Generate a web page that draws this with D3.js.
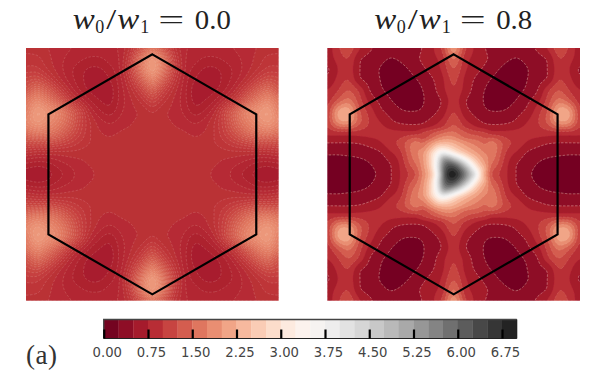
<!DOCTYPE html>
<html><head><meta charset="utf-8">
<style>
html,body{margin:0;padding:0;background:#fff}
svg{display:block}
</style>
<script src="https://cdn.jsdelivr.net/npm/d3@7"></script>
</head><body><div id="chart"></div>
<script>
// Quadrant samples (w0/w1 = 0.0), top-left quarter, mirrored on both axes
const leftQuadrant = [
[.92,.90,.88,.84,.82,.80,.80,.80,.80,.83,.98,1.30,1.60],
[.96,.96,.90,.84,.80,.77,.74,.74,.78,.83,1.08,1.60,1.95],
[1.02,1.02,.94,.85,.78,.72,.68,.68,.73,.83,1.12,1.62,2.00],
[1.15,1.20,1.08,.92,.80,.72,.66,.65,.69,.80,1.02,1.38,1.72],
[1.30,1.50,1.35,1.12,.90,.76,.68,.65,.66,.78,.92,1.12,1.36],
[1.60,1.80,1.65,1.40,1.10,.90,.76,.69,.67,.78,.87,.97,1.10],
[1.70,2.00,1.90,1.75,1.45,1.15,.88,.76,.72,.80,.86,.89,.95],
[1.80,1.95,1.85,1.70,1.45,1.15,.95,.84,.80,.84,.87,.89,.90],
[1.55,1.65,1.60,1.50,1.30,1.10,.95,.88,.86,.88,.89,.90,.90],
[1.20,1.20,1.20,1.15,1.08,1.00,.94,.90,.89,.90,.90,.90,.90],
[.93,.90,.90,.90,.91,.91,.90,.90,.90,.90,.90,.90,.90],
[.74,.72,.73,.78,.82,.85,.88,.89,.90,.90,.90,.90,.90],
[.66,.63,.66,.72,.78,.83,.86,.89,.90,.90,.90,.90,.90]];
// Same for the right panel (w0/w1 = 0.8)
const rightQuadrant = [
[.60,.95,1.15,.80,.55,.42,.36,.36,.38,.50,.72,1.10,1.95],
[.60,.85,1.00,.55,.42,.33,.24,.30,.42,.53,.68,.90,1.55],
[.45,.75,.90,.52,.38,.24,.13,.16,.30,.45,.60,.82,1.25],
[.55,.82,1.00,.55,.42,.25,.13,.08,.18,.32,.48,.72,1.08],
[.75,.98,1.25,.95,.50,.30,.17,.08,.10,.24,.42,.68,.98],
[.88,1.30,1.60,1.12,.68,.45,.27,.13,.08,.22,.38,.54,.90],
[1.00,2.00,2.15,1.30,.90,.56,.42,.28,.25,.28,.42,.62,1.00],
[1.05,1.85,1.95,1.35,.98,.75,.55,.44,.42,.45,.62,.85,1.20],
[.85,.92,.92,.90,.88,.85,.82,.80,.80,.85,1.02,1.20,1.50],
[.50,.50,.50,.52,.60,.72,.92,1.10,1.50,1.70,1.90,2.10,2.30],
[.28,.28,.30,.32,.37,.46,.70,.95,1.52,1.90,2.40,3.00,3.50],
[.12,.10,.12,.17,.24,.36,.50,.82,1.35,1.80,3.00,5.00,6.00],
[.05,.03,.05,.10,.18,.30,.48,.78,1.10,1.70,3.70,6.80,6.90]];
// Finer samples around the asymmetric central peak of the right panel (upper half)
const rightCore = [
[1.00,1.10,1.20,1.32,1.42,1.52,1.52,1.42,1.30,1.18,1.08,1.05,1.00],
[1.10,1.22,1.45,1.65,1.80,1.85,1.78,1.62,1.45,1.38,1.38,1.30,1.20],
[1.45,1.70,1.95,2.20,2.30,2.30,2.20,2.05,1.90,1.75,1.65,1.55,1.42],
[1.70,2.00,2.40,2.90,3.00,2.85,2.60,2.35,2.15,2.00,1.85,1.72,1.60],
[1.90,2.30,2.90,3.50,3.95,3.70,3.30,2.90,2.60,2.30,2.10,1.90,1.72],
[1.90,2.30,3.00,3.90,5.20,5.20,4.70,4.10,3.50,2.95,2.50,2.15,1.85],
[1.85,2.30,3.00,4.10,5.60,6.10,5.90,5.40,4.60,3.75,3.00,2.40,2.00],
[1.80,2.20,2.90,4.10,5.80,6.50,6.60,6.10,5.50,4.60,3.60,2.80,2.20],
[1.70,2.10,2.70,3.90,5.70,6.80,6.95,6.50,5.80,5.00,4.20,2.95,2.00]];
const hexVertices = [[0,1],[.866,.5],[.866,-.5],[0,-1],[-.866,-.5],[-.866,.5]];
const tickValues = [0,.75,1.5,2.25,3,3.75,4.5,5.25,6,6.75];
const tickLabels = ["0.00","0.75","1.50","2.25","3.00","3.75","4.50","5.25","6.00","6.75"];
const panelRatios = ["0.0","0.8"];
const colorDomain = [0,7];
const bandStep = .25;
const fineStep = .0625;

const W=593,H=379;
const svg=d3.select("#chart").append("svg").attr("width",W).attr("height",H);
const color=d3.scaleSequential(d3.interpolateRdGy).domain(colorDomain);

function cr(a,b,c,d,t){return b+.5*t*(c-a+t*(2*a-5*b+4*c-d+t*(3*(b-c)+d-a)));}
function upsample(src,n,f){
  const N=(n-1)*f+1,out=new Float64Array(N*N),cl=i=>Math.max(0,Math.min(n-1,i));
  const tmp=new Float64Array(N*n);
  for(let r=0;r<n;r++)for(let c=0;c<N;c++){
    const x=c/f,i=Math.min(Math.floor(x),n-2),t=x-i;
    tmp[r*N+c]=cr(src[r*n+cl(i-1)],src[r*n+i],src[r*n+i+1],src[r*n+cl(i+2)],t);
  }
  for(let r=0;r<N;r++)for(let c=0;c<N;c++){
    const y=r/f,j=Math.min(Math.floor(y),n-2),t=y-j;
    out[r*N+c]=Math.max(.005,cr(tmp[cl(j-1)*N+c],tmp[j*N+c],tmp[(j+1)*N+c],tmp[cl(j+2)*N+c],t));
  }
  return {data:out,N};
}
function buildField(quad,core){
  const main=new Float64Array(625);
  for(let j=0;j<25;j++)for(let i=0;i<25;i++)main[j*25+i]=quad[Math.min(j,24-j)][Math.min(i,24-i)];
  const half=upsample(main,25,2),n=half.N;
  if(core) core.forEach((row,m)=>row.forEach((v,k)=>{
    const r=16+m,c=18+k;
    half.data[r*n+c]=v; half.data[(48-r)*n+c]=v;
  }));
  const fine=upsample(half.data,n,4);
  d3.blur2({data:fine.data,width:fine.N,height:fine.N},1);
  return fine;
}

const defs=svg.append("defs");
defs.append("filter").attr("id","soft").attr("x","-5%").attr("y","-5%").attr("width","110%").attr("height","110%")
  .append("feGaussianBlur").attr("stdDeviation",.35);

const panels=[
 {q:leftQuadrant,core:null,x0:26,step:fineStep,lines:d3.range(.5,2.2,fineStep),strong:1e9,lineOp:.3,ratio:panelRatios[0]},
 {q:rightQuadrant,core:rightCore,x0:327.3,step:bandStep,lines:[.25,.5,1,1.25,1.5,1.75,2,2.25,2.5],strong:.5,lineOp:.65,ratio:panelRatios[1]}
];
const size=252.7,y0=48,cy=y0+size/2;

panels.forEach((p,idx)=>{
  const g=svg.append("g");
  const cid="clip"+idx;
  defs.append("clipPath").attr("id",cid).append("rect").attr("x",p.x0).attr("y",y0).attr("width",size).attr("height",size);
  const {data,N}=buildField(p.q,p.core);
  const sx=d3.scaleLinear().domain([.5,N-.5]).range([p.x0,p.x0+size]);
  const sy=d3.scaleLinear().domain([.5,N-.5]).range([y0,y0+size]);
  const path=d3.geoPath(d3.geoTransform({point(x,y){this.stream.point(sx(x),sy(y));}}));
  const th=d3.range(0,7,p.step);
  const contours=d3.contours().size([N,N]).thresholds(th)(data);
  const body=g.append("g").attr("clip-path",`url(#${cid})`).append("g").attr("filter","url(#soft)");
  body.selectAll("path.band").data(contours.filter(c=>c.coordinates.length)).join("path").attr("class","band")
    .attr("d",path).attr("fill",d=>color(d.value+p.step/2)).attr("stroke",d=>color(d.value+p.step/2)).attr("stroke-width",.3);
  const lineContours=d3.contours().size([N,N]).thresholds(p.lines)(data);
  body.selectAll("path.line").data(lineContours).join("path").attr("class","line")
    .attr("d",path).attr("fill","none").attr("stroke","#f6d9cc")
    .attr("stroke-opacity",d=>(p.strong<1e8&&d.value>p.strong)?.22:p.lineOp)
    .attr("stroke-width",.6).attr("stroke-dasharray","2.5 1.5");

  // hexagon
  const cx=p.x0+size/2;
  const hx=d3.scaleLinear().domain([-1,1]).range([cx-120,cx+120]);
  const hy=d3.scaleLinear().domain([-1,1]).range([cy+120,cy-120]);
  g.append("path").attr("d",d3.line().x(d=>hx(d[0])).y(d=>hy(d[1])).curve(d3.curveLinearClosed)(hexVertices))
    .attr("fill","none").attr("stroke","#000").attr("stroke-width",2.2).attr("stroke-linejoin","miter");

  // title pieces, laid out to follow the wide math setting of the reference
  const tg=svg.append("g").attr("transform",`translate(${cx},29)`).attr("font-family","'Liberation Serif',serif").attr("fill","#222");
  const piece=(txt,dx,fs,opt={})=>{
    const t=tg.append("text").attr("x",dx).attr("y",opt.dy||0).attr("font-size",fs).text(txt);
    if(opt.it) t.attr("font-style","italic");
    if(opt.len) t.attr("textLength",opt.len).attr("lengthAdjust","spacingAndGlyphs");
  };
  piece("w",-79.5,30,{it:1,len:22});
  piece("0",-57,18,{dy:4});
  piece("/",-46,30,{len:10});
  piece("w",-35,30,{it:1,len:22});
  piece("1",-12,18,{dy:4});
  piece("=",6,28,{len:26});
  piece(p.ratio,42.5,27,{len:36});
});

// colour bar
const cb=d3.scaleLinear().domain(colorDomain).range([103.75,516.75]);
const cbY=319.5,cbH=19;
const bar=svg.append("g");
bar.selectAll("rect").data(d3.range(0,7,bandStep)).join("rect")
  .attr("x",d=>cb(d)).attr("y",cbY).attr("width",d=>cb(d+bandStep)-cb(d)+.3).attr("height",cbH)
  .attr("fill",d=>color(d+bandStep/2));
bar.append("path").attr("d",`M${cb(0)},${cbY+cbH}V${cbY}H${cb(7)}`).attr("fill","none").attr("stroke","#444").attr("stroke-width",1.4);
bar.append("path").attr("d",`M${cb(0)},${cbY+cbH}H${cb(7)}V${cbY}`).attr("fill","none").attr("stroke","#222").attr("stroke-width",1);
const axis=d3.axisBottom(cb).tickValues(tickValues).tickFormat((d,i)=>tickLabels[i]).tickSizeInner(-9).tickSizeOuter(0).tickPadding(8);
const ag=svg.append("g").attr("transform",`translate(0,${cbY+cbH})`).call(axis);
ag.select(".domain").remove();
ag.selectAll(".tick line").attr("stroke","#000").attr("stroke-width",2.2);
ag.selectAll(".tick text").attr("dx",3).attr("y",9).attr("font-family","'DejaVu Sans',sans-serif").attr("font-size",13.2).attr("fill","#444");

svg.append("text").attr("x",26).attr("y",364).attr("font-family","'Liberation Serif',serif").attr("font-size",27).attr("fill","#333").attr("textLength",31).text("(a)");
</script></body></html>
